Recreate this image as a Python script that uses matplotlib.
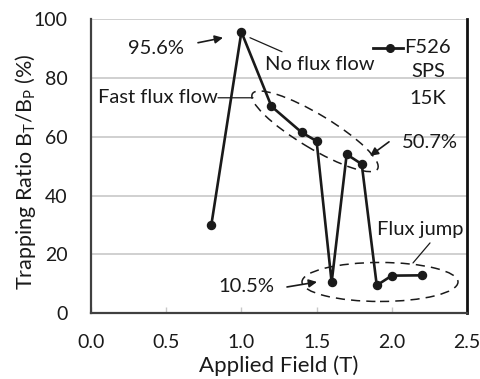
import matplotlib
matplotlib.use("Agg")
import matplotlib.pyplot as plt
from matplotlib.patches import Ellipse
from matplotlib.transforms import ScaledTranslation

plt.rcParams['font.family'] = ['Lato', 'DejaVu Sans']
plt.rcParams['mathtext.fontset'] = 'custom'
plt.rcParams['mathtext.rm'] = 'Lato'
plt.rcParams['mathtext.it'] = 'Lato:italic'

# Data
field = [0.8, 1.0, 1.2, 1.4, 1.5, 1.6, 1.7, 1.8, 1.9, 2.0, 2.2]
ratio = [30.0, 95.6, 70.3, 61.5, 58.5, 10.5, 54.0, 50.7, 9.5, 12.8, 12.9]
xticks = [0.0, 0.5, 1.0, 1.5, 2.0, 2.5]
xticklabels = ["0.0", "0.5", "1.0", "1.5", "2.0", "2.5"]
yticks = [0, 20, 40, 60, 80, 100]
yticklabels = ["0", "20", "40", "60", "80", "100"]
series_name = "F526"

W, H = 481, 379
fig = plt.figure(figsize=(W / 100, H / 100), dpi=100)
ax = fig.add_axes([91 / W, 1 - 313.3 / H, (467 - 91) / W, (313.3 - 19) / H])

tc = '#1a1a1a'
ax.plot(field, ratio, color='#1a1a1a', lw=1.9, marker='o', ms=5.8, zorder=3,
        label=series_name)

ax.set_xlim(0, 2.5)
ax.set_ylim(0, 100)
ax.set_xticks(xticks)
ax.set_xticklabels(xticklabels)
ax.set_yticks(yticks)
ax.set_yticklabels(yticklabels)
for y in yticks[1:]:
    ax.axhline(y, color='#c8c8c8', lw=1.2, zorder=1)

ax.tick_params(axis='y', length=0, pad=17, labelsize=14, colors=tc)
ax.tick_params(axis='x', direction='in', length=4, width=1, color='#c8c8c8',
               pad=15, labelsize=14, labelcolor=tc)
ax.spines['top'].set_visible(False)
ax.spines['left'].set_color('#404040')
ax.spines['left'].set_linewidth(1.6)
ax.spines['bottom'].set_color('#404040')
ax.spines['bottom'].set_linewidth(1.6)
ax.spines['right'].set_color('#111111')
ax.spines['right'].set_linewidth(2)

ax.set_xlabel("Applied Field (T)", fontsize=16, color=tc, labelpad=3)
ax.set_ylabel(r"Trapping Ratio B$_\mathrm{T}$/B$_\mathrm{P}$ (%)", fontsize=15.5,
              color=tc)
ax.yaxis.set_label_coords(-0.142, 0.48)

# helpers: pixel (from top-left) to data
def px(x, y):
    return ((x - 91) / 150.4, (313.3 - y) / 2.94)

fs = 14.5
# Legend-like entry
ax.plot([px(373, 48)[0], px(403, 48)[0]], [px(373, 48)[1]] * 2, color='#1a1a1a', lw=2,
        clip_on=False)
ax.plot([px(390, 48)[0]], [px(390, 48)[1]], 'o', color='#1a1a1a', ms=5.5, clip_on=False)
ax.text(*px(404, 48), series_name, fontsize=fs, color=tc, ha='left', va='center')
ax.text(*px(428, 72), "SPS", fontsize=fs, color=tc, ha='center', va='center')
ax.text(*px(428, 99), "15K", fontsize=fs, color=tc, ha='center', va='center')

arrow = dict(arrowstyle='-|>', color='#1a1a1a', lw=1.2, mutation_scale=12,
             shrinkA=0, shrinkB=0)
line = dict(arrowstyle='-', color='#1a1a1a', lw=0.9, shrinkA=0, shrinkB=0)

ax.text(*px(156, 49), "95.6%", fontsize=fs, color=tc, ha='center', va='center')
ax.annotate("", xy=px(223, 38), xytext=px(198, 43), arrowprops=arrow)

ax.text(*px(320, 65), "No flux flow", fontsize=fs, color=tc, ha='center', va='center')
ax.annotate("", xy=px(250, 38), xytext=px(282, 52), arrowprops=line)

ax.text(*px(158, 98), "Fast flux flow", fontsize=fs, color=tc, ha='center', va='center')
ax.annotate("", xy=px(218, 98), xytext=px(253, 98), arrowprops=line)

ax.text(*px(430, 143), "50.7%", fontsize=fs, color=tc, ha='center', va='center')
ax.annotate("", xy=px(370, 156), xytext=px(389, 142), arrowprops=arrow)

ax.text(*px(246, 287), "10.5%", fontsize=fs, color=tc, ha='center', va='center')
ax.annotate("", xy=px(317, 282), xytext=px(287, 287), arrowprops=arrow)

ax.text(*px(420, 230), "Flux jump", fontsize=fs, color=tc, ha='center', va='center')
ax.annotate("", xy=px(430, 243), xytext=px(413, 263), arrowprops=line)

# dashed ellipses (sizes in inches, centred at data points)
def ellipse(cx, cy, w_px, h_px, angle):
    tr = fig.dpi_scale_trans + ScaledTranslation(*px(cx, cy), ax.transData)
    e = Ellipse((0, 0), w_px / 100, h_px / 100, angle=angle, transform=tr,
                fill=False, ls=(0, (6, 4)), lw=1.1, color='#1a1a1a', clip_on=False)
    ax.add_patch(e)

ellipse(315, 131.5, 146, 34, -31)
ellipse(380, 282, 156, 39, 0)

fig.savefig("out.png", dpi=100)
